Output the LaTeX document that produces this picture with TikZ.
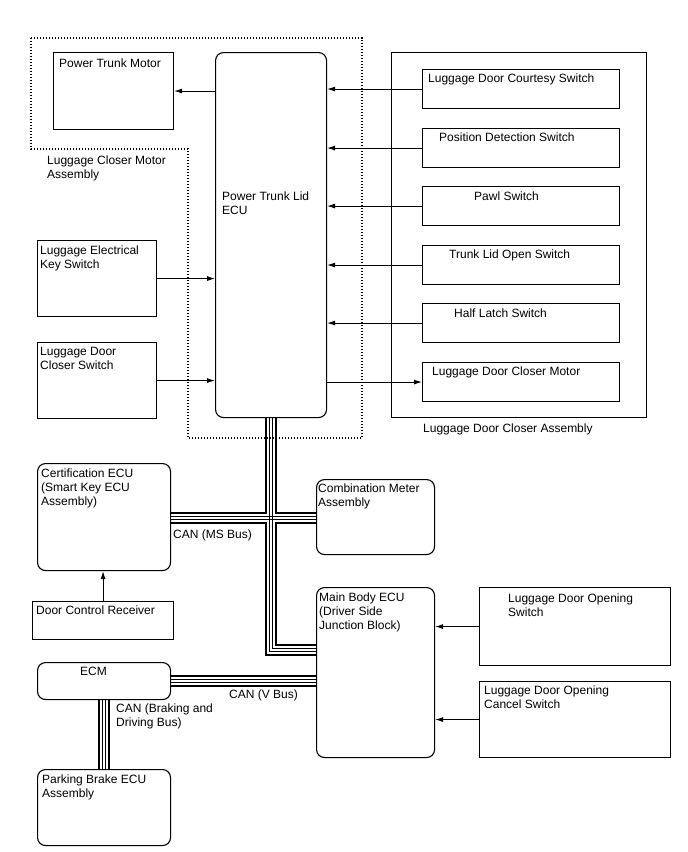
\documentclass[tikz,border=0pt]{standalone}
\usepackage{fontspec}
\setmainfont{Liberation Sans}
\usetikzlibrary{arrows.meta,calc}
\begin{document}
\begin{tikzpicture}[x=1pt,y=-1pt,
  box/.style={draw=black, line width=1.1pt, inner sep=0pt, anchor=north west},
  rbox/.style={box, rounded corners=8pt},
  txt/.style={anchor=north west, inner sep=0pt, align=left, font=\fontsize{12}{14}\selectfont},
  arr/.style={draw=black, line width=0.9pt, -{Latex[length=8pt,width=5pt]}},
  wthick/.style={draw=black, line width=2.4pt},
  wthin/.style={draw=black, line width=0.9pt},
  dots/.style={draw=black, line width=1.2pt, dash pattern=on 1.4pt off 1.6pt},
]
\useasboundingbox (0,0) rectangle (688,852);

% group outline
\draw[dots] (31,38) -- (362,38) -- (362,438) -- (188,438) -- (188,149) -- (31,149) -- cycle;

% boxes
\node[box, minimum width=120, minimum height=77] (ptm) at (53,52) {};
\node[rbox, minimum width=111, minimum height=365] (ecu) at (215,52) {};
\node[box, minimum width=255, minimum height=365] (lca) at (391,52) {};
\node[box, minimum width=197, minimum height=39] (sw1) at (422,69) {};
\node[box, minimum width=197, minimum height=39] (sw2) at (422,128) {};
\node[box, minimum width=197, minimum height=39] (sw3) at (422,186) {};
\node[box, minimum width=197, minimum height=39] (sw4) at (422,245) {};
\node[box, minimum width=197, minimum height=39] (sw5) at (422,303) {};
\node[box, minimum width=197, minimum height=39] (sw6) at (422,362) {};
\node[box, minimum width=119, minimum height=76] (lek) at (37,240) {};
\node[box, minimum width=119, minimum height=76] (ldcs) at (37,342) {};
\node[rbox, minimum width=133, minimum height=107] (cert) at (37,463) {};
\node[rbox, minimum width=118, minimum height=75] (comb) at (316,479) {};
\node[box, minimum width=141, minimum height=38] (drc) at (32,601) {};
\node[rbox, minimum width=118, minimum height=170] (mb) at (316,587) {};
\node[box, minimum width=191, minimum height=78] (ldos) at (479,587) {};
\node[box, minimum width=191, minimum height=76] (ldocs) at (479,681) {};
\node[rbox, minimum width=133, minimum height=37] (ecm) at (37,662) {};
\node[rbox, minimum width=133, minimum height=76] (pb) at (37,769) {};

% texts
\node[txt] (t-ptm) at (59,58.5) {Power Trunk Motor};
\node[txt] (t-lcma) at (47,155.5) {Luggage Closer Motor\\Assembly};
\node[txt] (t-ecu) at (222,191.5) {Power Trunk Lid\\ECU};
\node[txt] (t-sw1) at (428,73.5) {Luggage Door Courtesy Switch};
\node[txt] (t-sw2) at (439,132.5) {Position Detection Switch};
\node[txt] (t-sw3) at (474,191.5) {Pawl Switch};
\node[txt] (t-sw4) at (449,249.5) {Trunk Lid Open Switch};
\node[txt] (t-sw5) at (454,308.5) {Half Latch Switch};
\node[txt] (t-sw6) at (432,366.5) {Luggage Door Closer Motor};
\node[txt] (t-lca) at (423,423.5) {Luggage Door Closer Assembly};
\node[txt] (t-lek) at (40,245.5) {Luggage Electrical\\Key Switch};
\node[txt] (t-ldcs) at (40,347.5) {Luggage Door\\Closer Switch};
\node[txt] (t-cert) at (41,468.5) {Certification ECU\\(Smart Key ECU\\Assembly)};
\node[txt] (t-ms) at (173,529.5) {CAN (MS Bus)};
\node[txt] (t-comb) at (318,483.5) {Combination Meter\\Assembly};
\node[txt] (t-drc) at (36,605.5) {Door Control Receiver};
\node[txt] (t-mb) at (319,592.5) {Main Body ECU\\(Driver Side\\Junction Block)};
\node[txt] (t-ldos) at (508,593.5) {Luggage Door Opening\\Switch};
\node[txt] (t-ldocs) at (484,685.5) {Luggage Door Opening\\Cancel Switch};
\node[txt] (t-ecm) at (80,666.5) {ECM};
\node[txt] (t-v) at (229,689.5) {CAN (V Bus)};
\node[txt] (t-brk) at (116,703.5) {CAN (Braking and\\Driving Bus)};
\node[txt] (t-pb) at (42,774.5) {Parking Brake ECU\\Assembly};

% arrows
\draw[arr] (ecu.west |- ptm.east) -- (ptm.east);
\foreach \s in {sw1,sw2,sw3,sw4,sw5}
  \draw[arr] (\s.west) -- (\s.west -| ecu.east);
\draw[arr] (ecu.east |- sw6.west) -- (sw6.west);
\draw[arr] (lek.east) -- (lek.east -| ecu.west);
\draw[arr] (ldcs.east) -- (ldcs.east -| ecu.west);
\draw[arr] (drc.north) -- (drc.north |- cert.south);
\draw[arr] (ldos.west) -- (ldos.west -| mb.east);
\draw[arr] (ldocs.west) -- (ldocs.west -| mb.east);

% CAN MS bus
\coordinate (hub) at (ecu.south |- 0,518);
\coordinate (bend) at (ecu.south |- 0,650);
\coordinate (cL) at (cert.east |- hub);
\coordinate (cR) at (comb.west |- hub);
\coordinate (mbin) at (mb.west |- bend);
\draw[wthick] ($(ecu.south)+(-5,0)$) |- ($(cL)+(0,-5)$);
\draw[wthick] ($(ecu.south)+(5,0)$) |- ($(cR)+(0,-5)$);
\draw[wthick] ($(cL)+(0,5)$) -| ($(bend)+(-5,5)$) -- ($(mbin)+(0,5)$);
\draw[wthick] ($(cR)+(0,5)$) -| ($(bend)+(5,-5)$) -- ($(mbin)+(0,-5)$);
\draw[wthin] ($(ecu.south)+(-1.7,0)$) -- ($(bend)+(-1.7,1.7)$) -- ($(mbin)+(0,1.7)$);
\draw[wthin] ($(ecu.south)+(1.7,0)$) -- ($(bend)+(1.7,-1.7)$) -- ($(mbin)+(0,-1.7)$);
\draw[wthin] ($(cL)+(0,-1.7)$) -- ($(cR)+(0,-1.7)$);
\draw[wthin] ($(cL)+(0,1.7)$) -- ($(cR)+(0,1.7)$);

% CAN V bus
\coordinate (vL) at (ecm.east);
\coordinate (vR) at (mb.west |- vL);
\draw[wthick] ($(vL)+(0,-5)$) -- ($(vR)+(0,-5)$);
\draw[wthin] ($(vL)+(0,-1.7)$) -- ($(vR)+(0,-1.7)$);
\draw[wthin] ($(vL)+(0,1.7)$) -- ($(vR)+(0,1.7)$);
\draw[wthick] ($(vL)+(0,5)$) -- ($(vR)+(0,5)$);

% CAN braking and driving bus
\coordinate (bT) at (ecm.south);
\coordinate (bB) at (pb.north -| bT);
\draw[wthick] ($(bT)+(-5,0)$) -- ($(bB)+(-5,0)$);
\draw[wthin] ($(bT)+(-1.7,0)$) -- ($(bB)+(-1.7,0)$);
\draw[wthin] ($(bT)+(1.7,0)$) -- ($(bB)+(1.7,0)$);
\draw[wthick] ($(bT)+(5,0)$) -- ($(bB)+(5,0)$);
\end{tikzpicture}
\end{document}
